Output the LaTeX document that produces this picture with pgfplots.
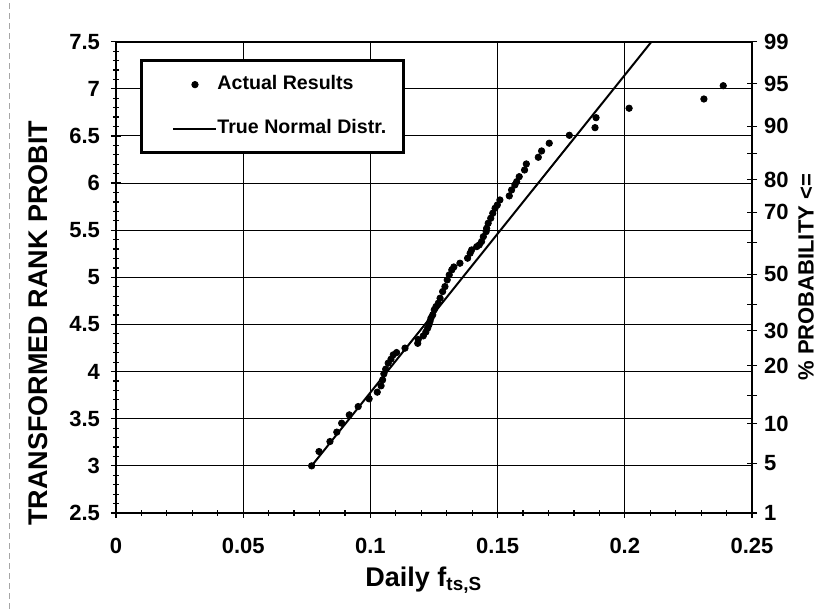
\documentclass[border=0pt]{standalone}
\usepackage{fontspec}
\setmainfont{Liberation Sans}
\usepackage{pgfplots}
\pgfplotsset{compat=1.18}
\pgfplotsset{
  dotlegend/.style={legend image code/.code={\path (-7pt,0pt); \draw[mark repeat=2,mark phase=2,##1] plot coordinates {(0pt,0pt) (10.75pt,0pt) (21.5pt,0pt)};}},
  linelegend/.style={legend image code/.code={\path (-7pt,0pt); \draw[##1] (0pt,0pt) -- (21.5pt,0pt);}},
}
\begin{document}
\begin{tikzpicture}
\useasboundingbox (-58pt,-48pt) rectangle (355.5pt,256.5pt);
\draw[densely dashed, gray!70, line width=0.5pt] (-53pt,-48pt) -- (-53pt,256.5pt);
\begin{axis}[
  at={(0pt,0pt)}, anchor=south west,
  scale only axis, width=318pt, height=235.65pt,
  xmin=0, xmax=0.25, ymin=2.5, ymax=7.5,
  xtick={0,0.05,0.1,0.15,0.2,0.25},
  xticklabels={0,0.05,0.1,0.15,0.2,0.25},
  ytick={2.5,3,3.5,4,4.5,5,5.5,6,6.5,7,7.5},
  yticklabels={2.5,3,3.5,4,4.5,5,5.5,6,6.5,7,7.5},
  minor x tick num=4, minor y tick num=4,
  xtick pos=bottom, ytick pos=left,
  tick align=center,
  major tick length=5pt, minor tick length=3pt,
  every tick/.style={black, line width=0.6pt},
  grid=major, major grid style={black, line width=0.5pt},
  minor grid style={draw=none},
  axis line style={line width=1pt},
  tick label style={font=\bfseries\fontsize{11}{13}\selectfont},
  xticklabel style={yshift=-6.5pt},
  yticklabel style={xshift=-2pt},
  xlabel={Daily f\textsubscript{ts,S}},
  every axis x label/.style={at={(axis description cs:0.484,-0.142)}, anchor=center, font=\bfseries\fontsize{13.5}{15}\selectfont},
  ylabel={TRANSFORMED RANK PROBIT},
  every axis y label/.style={at={(axis description cs:-0.1226,0.403)}, anchor=center, rotate=90, font=\bfseries\fontsize{13.5}{15}\selectfont},
  legend style={at={(axis description cs:0.0377,0.963)}, anchor=north west,
    draw=black, line width=1.5pt, fill=white,
    inner xsep=8.5pt, inner ysep=7.5pt, row sep=13pt,
    font=\bfseries\fontsize{9.8}{11}\selectfont,
    nodes={inner sep=0pt, text height=7pt, text depth=2pt},
    /tikz/every even column/.append style={column sep=2pt}},
  legend cell align=left,
]
\addplot[only marks, mark=*, mark size=1.6pt, black, line width=0.4pt, dotlegend]
coordinates {
(0.0769,3.000) (0.0798,3.152) (0.0841,3.258) (0.0868,3.358) (0.0887,3.453)
(0.0917,3.541) (0.0952,3.629) (0.0995,3.711) (0.1027,3.782) (0.1042,3.849)
(0.1048,3.912) (0.1053,3.976) (0.1060,4.026) (0.1070,4.090) (0.1081,4.132)
(0.1090,4.178) (0.1103,4.202) (0.1136,4.249) (0.1186,4.300) (0.1188,4.340)
(0.1208,4.379) (0.1218,4.420) (0.1225,4.461) (0.1230,4.496) (0.1234,4.531)
(0.1238,4.567) (0.1245,4.602) (0.1251,4.655) (0.1258,4.690) (0.1267,4.726)
(0.1274,4.779) (0.1284,4.849) (0.1293,4.902) (0.1302,4.973) (0.1310,5.026)
(0.1320,5.079) (0.1328,5.110) (0.1352,5.150) (0.1382,5.203) (0.1392,5.256)
(0.1398,5.291) (0.1418,5.326) (0.1428,5.344) (0.1437,5.379) (0.1444,5.432)
(0.1455,5.485) (0.1457,5.521) (0.1463,5.574) (0.1473,5.627) (0.1481,5.680)
(0.1490,5.733) (0.1499,5.768) (0.1509,5.821) (0.1546,5.864) (0.1555,5.927)
(0.1568,5.980) (0.1575,6.015) (0.1585,6.068) (0.1606,6.139) (0.1613,6.203)
(0.1660,6.274) (0.1673,6.341) (0.1703,6.423) (0.1782,6.507) (0.1883,6.588)
(0.1887,6.694) (0.2017,6.794) (0.2311,6.892) (0.2387,7.033)
};
\addlegendentry{Actual Results}
\addplot[black, line width=1pt, no marks, linelegend]
coordinates {(0.0769,3.0) (0.2105,7.5)};
\addlegendentry{True Normal Distr.}
\end{axis}
\begin{axis}[
  at={(0pt,0pt)}, anchor=south west,
  scale only axis, width=318pt, height=235.65pt,
  xmin=0, xmax=0.25, ymin=2.5, ymax=7.5,
  axis x line=none, axis y line*=right,
  axis line style={line width=1pt},
  ytick={2.5,3.027,3.449,3.748,4.064,4.433,4.715,5.032,5.366,5.689,6.034,6.315,6.603,7.054,7.5},
  yticklabels={1,5,10,,20,30,,50,,70,80,,90,95,99},
  tick align=center, major tick length=5pt,
  every tick/.style={black, line width=0.6pt},
  tick label style={font=\bfseries\fontsize{11}{13}\selectfont},
  yticklabel style={anchor=west, xshift=0pt},
  ylabel={\% PROBABILITY <=},
  every axis y label/.style={at={(axis description cs:1.085,0.5)}, anchor=center, rotate=90, font=\bfseries\fontsize{11}{13}\selectfont},
]
\end{axis}
\end{tikzpicture}
\end{document}
